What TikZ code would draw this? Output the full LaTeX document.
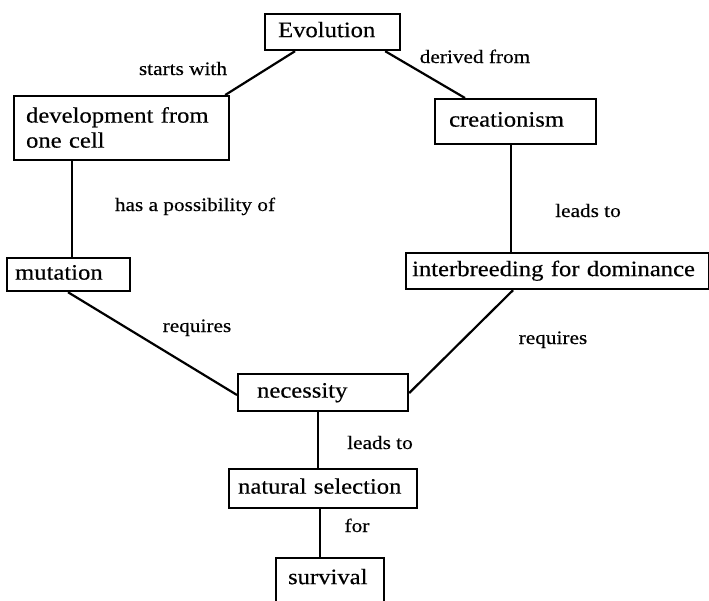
\documentclass[tikz,border=0pt]{standalone}
\usepackage{fontspec}
\setmainfont{Liberation Serif}[FakeStretch=1.12,FakeBold=0.4]
\usetikzlibrary{positioning}

\begin{document}
\begin{tikzpicture}[x=1pt,y=-1pt,
	box/.style={draw,line width=2.2pt,anchor=north west,inner ysep=0pt,align=left,
		text height=15pt,text depth=5pt,font=\fontsize{22}{25}\selectfont},
	lbl/.style={inner sep=0pt,text height=12pt,text depth=4pt,font=\fontsize{19}{21}\selectfont},
	link/.style={line width=2.2pt}]
\useasboundingbox (0,0) rectangle (709,600);

%boxes
\node[box,inner xsep=13pt,text width=109pt,minimum height=36pt] (0) at (264,13) {Evolution};
\node[box,inner xsep=12pt,text width=191pt,minimum height=64pt,text height=14pt,text depth=25pt] (1) at (13,95) {development from\\one cell};
\node[box,inner xsep=14pt,text width=133pt,minimum height=45pt] (2) at (434,98) {creationism};
\node[box,inner xsep=8pt,text width=107pt,minimum height=33pt] (3) at (6,257) {mutation};
\node[box,inner xsep=6pt,text width=291pt,minimum height=36pt] (4) at (405,252) {interbreeding for dominance};
\node[box,inner xsep=19pt,text width=132pt,minimum height=37pt] (5) at (237,373) {necessity};
\node[box,inner xsep=9pt,text width=170pt,minimum height=39pt] (6) at (228,468) {natural selection};
\node[box,inner xsep=12pt,text width=84pt,text height=26pt,text depth=40pt] (7) at (275,557) {survival};

%labels
\node[lbl] (8) at (183,71) {starts with};
\node[lbl] (9) at (475,59) {derived from};
\node[lbl] (10) at (195,207) {has a possibility of};
\node[lbl] (11) at (588,213) {leads to};
\node[lbl] (12) at (197,328) {requires};
\node[lbl] (13) at (553,340) {requires};
\node[lbl] (14) at (380,445) {leads to};
\node[lbl] (15) at (357,528) {for};

%links
\draw[link] ([xshift=31pt]0.south west) -- ([xshift=-5pt]1.north east);
\draw[link] ([xshift=-16pt]0.south east) -- ([xshift=31pt]2.north west);
\draw[link] ([xshift=59pt]1.south west) -- ([xshift=59pt]1.south west |- 3.north);
\draw[link] ([xshift=77pt]2.south west) -- ([xshift=77pt]2.south west |- 4.north);
\draw[link] ([xshift=62pt]3.south west) -- ([yshift=-22pt]5.north west);
\draw[link] ([xshift=108pt]4.south west) -- ([yshift=-20pt]5.north east);
\draw[link] ([xshift=81pt]5.south west) -- ([xshift=81pt]5.south west |- 6.north);
\draw[link] ([xshift=92pt]6.south west) -- ([xshift=92pt]6.south west |- 7.north);

\end{tikzpicture}
\end{document}
